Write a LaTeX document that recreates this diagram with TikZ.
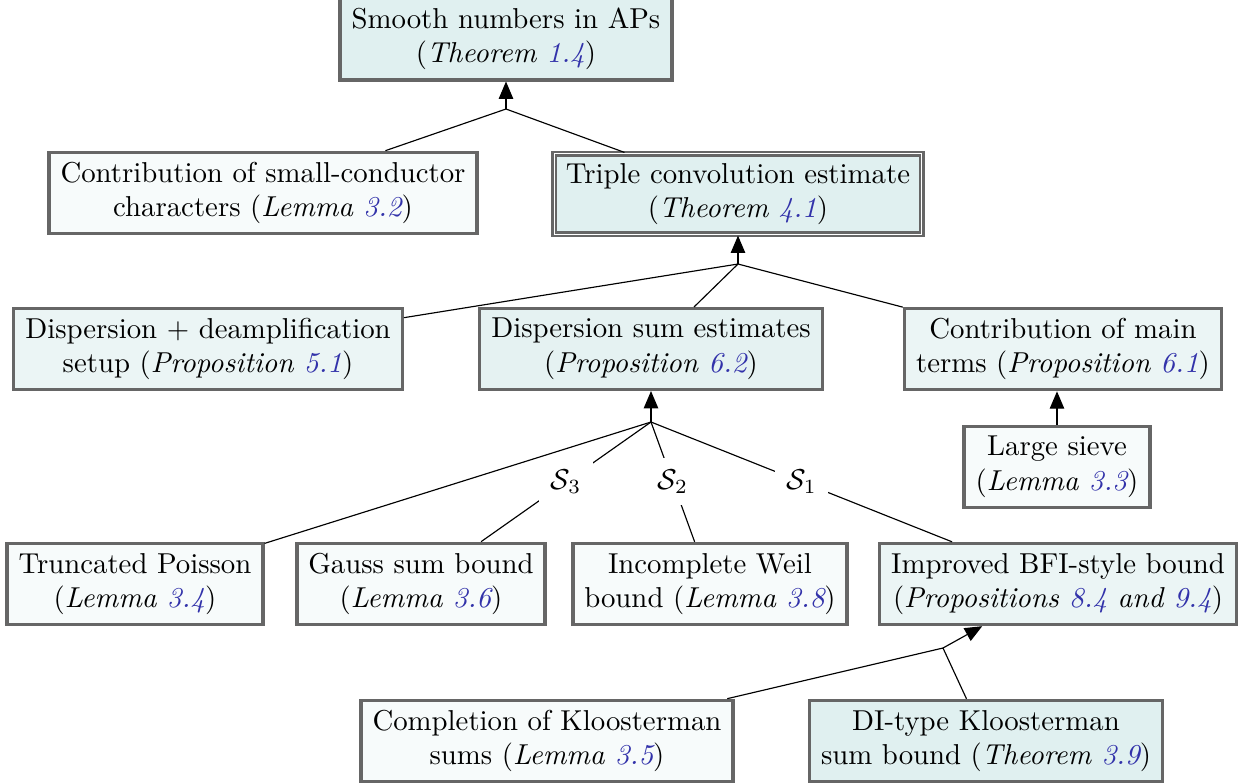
\documentclass[tikz,border=0pt]{standalone}
\usepackage{amsmath}
\usepackage{amssymb}
\usepackage{tikz}
\usetikzlibrary{arrows.meta}
\definecolor{refblue}{RGB}{50,50,170}
\newcommand{\rf}[1]{\textcolor{refblue}{#1}}

\begin{document}
\begin{tikzpicture}[x=0.1221mm, y={(0,-0.1221mm)},
		box/.style={draw=black!60, very thick, align=center, minimum height=27pt, inner xsep=4pt},
		hi/.style={box, fill=teal!12}, mid/.style={box, fill=teal!8}, lo/.style={box, fill=teal!3},
		up/.style={-{Triangle[width=5pt,length=6pt]}},
		lbl/.style={fill=white, inner sep=4pt}]
		\useasboundingbox (0,0) rectangle (1239,783);
		\node[hi] (smooth) at (506,39) {Smooth numbers in APs\\(\textit{Theorem \rf{1.4}})};
		\node[lo] (small) at (263,193) {Contribution of small-conductor\\characters (\textit{Lemma \rf{3.2}})};
		\node[hi, thick, double=white, double distance=0.5pt] (triple) at (738,194) {Triple convolution estimate\\(\textit{Theorem \rf{4.1}})};
		\node[mid] (setup) at (208,349) {Dispersion + deamplification\\setup (\textit{Proposition \rf{5.1}})};
		\node[box, fill=teal!10] (dsum) at (651,349) {Dispersion sum estimates\\(\textit{Proposition \rf{6.2}})};
		\node[mid] (main) at (1063,349) {Contribution of main\\terms (\textit{Proposition \rf{6.1}})};
		\node[lo] (sieve) at (1057,467) {Large sieve\\(\textit{Lemma \rf{3.3}})};
		\node[lo] (poisson) at (135,584) {Truncated Poisson\\(\textit{Lemma \rf{3.4}})};
		\node[lo] (gauss) at (421,584) {Gauss sum bound\\(\textit{Lemma \rf{3.6}})};
		\node[lo] (weil) at (710,584) {Incomplete Weil\\bound (\textit{Lemma \rf{3.8}})};
		\node[mid] (bfi) at (1058,584) {Improved BFI-style bound\\(\textit{Propositions \rf{8.4} and \rf{9.4}})};
		\node[lo] (kloost) at (547,741) {Completion of Kloosterman\\sums (\textit{Lemma \rf{3.5}})};
		\node[hi] (di) at (986,741) {DI-type Kloosterman\\sum bound (\textit{Theorem \rf{3.9}})};
		\coordinate (j1) at (506,109);
		\coordinate (j2) at (738,264);
		\coordinate (j3) at (651,422);
		\coordinate (j4) at (943,648);
		\draw[up] (j1) -- (smooth);
		\draw (small) -- (j1) -- (triple);
		\draw[up] (j2) -- (triple);
		\draw (setup) -- (j2) -- (main);
		\draw (j2) -- (dsum);
		\draw[up] (sieve) -- (sieve |- main.south);
		\draw[up] (j3) -- (dsum);
		\draw (j3) -- (poisson);
		\draw (j3) -- node[lbl] {$\mathcal{S}_3$} (gauss);
		\draw (j3) -- node[lbl] {$\mathcal{S}_2$} (weil);
		\draw (j3) -- node[lbl] {$\mathcal{S}_1$} (bfi);
		\draw[up] (j4) -- (bfi);
		\draw (kloost) -- (j4) -- (di);
	\end{tikzpicture}
\end{document}
